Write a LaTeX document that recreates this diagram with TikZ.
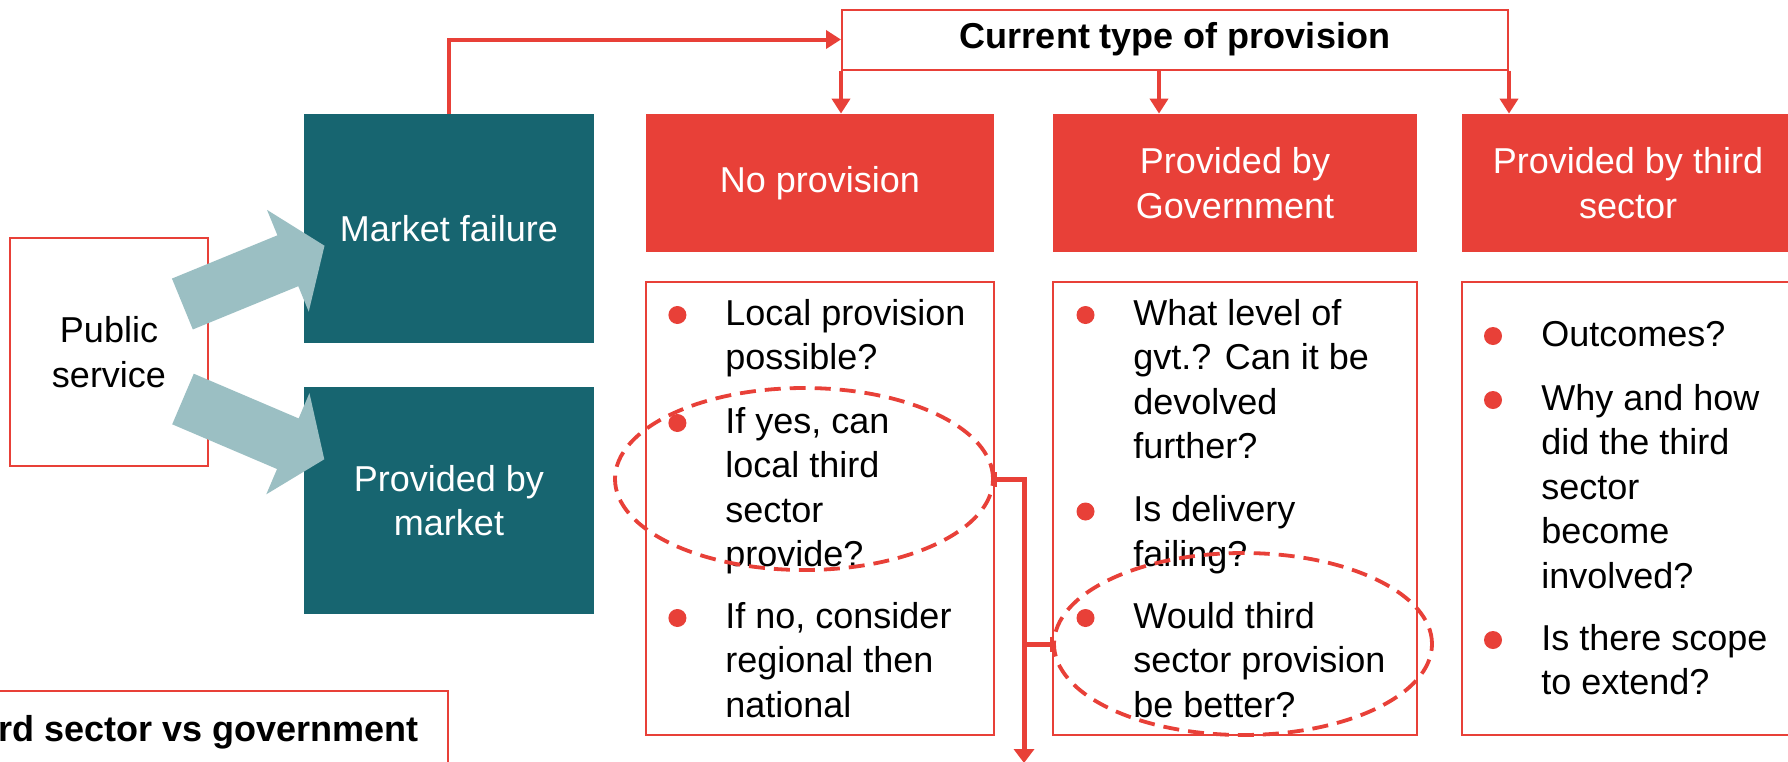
\documentclass[tikz,border=0pt]{standalone}
\usepackage{fontspec}
\setmainfont{Liberation Sans}
\usetikzlibrary{shapes.geometric}
\usetikzlibrary{arrows.meta}
\definecolor{redc}{HTML}{E84038}
\definecolor{tealc}{HTML}{176570}
\definecolor{palec}{HTML}{9BBFC3}
\tikzset{node distance=162.75pt,
every node/.style={
font=\fontsize{18}{22.25}\selectfont,
align=center},
redbox/.style={
fill=redc,
text=white,
minimum height=69pt,
inner sep=0pt},
tealbox/.style={
fill=tealc,
text=white,
minimum width=145pt,
inner sep=0pt},
framebox/.style={
draw=redc,
line width=1pt,
inner sep=0pt},
listbox/.style={
framebox,
minimum height=226.5pt},
item/.style={
anchor=base west,
align=left,
inner sep=0pt},
dot/.style={
circle,
fill=redc,
minimum size=9pt,
inner sep=0pt},
ring/.style={
ellipse,
draw=redc,
line width=1.9pt,
dash pattern=on 8pt off 4.5pt,
minimum width=189pt,
minimum height=91pt},
fat/.style={
fill=palec},
link/.style={
draw=redc,
line width=2pt,
-{Triangle[length=7.5pt,width=9pt]}},
flow/.style={
draw=redc,
line width=2.5pt,
{Bar[width=7.5pt,line width=1pt]}-{Triangle[length=7pt,width=10pt]}},
flowbar/.style={
draw=redc,
line width=2.5pt,
{Bar[width=7.5pt,line width=1pt]}-}}

\begin{document}
\begin{tikzpicture}[x=0.5pt, y=-0.5pt]
\path[use as bounding box, clip] (0,0) rectangle (1788,761);
\fill[white] (0,0) rectangle (1788,761);

% left side
\node[framebox, minimum width=98.8pt, minimum height=113.75pt] (pub) at (109,352) {Public\\service};
\node[tealbox, minimum height=114.5pt] (fail) at (449,228.5) {Market failure};
\node[tealbox, minimum height=113.5pt] (mkt) at (449,500.5) {Provided by\\market};
\fill[fat, shift={(182.4,304)}, rotate=22.3] (0,27.5) -- (114,27.5) -- (114,55) -- (153.6,0) -- (114,-55) -- (114,-27.5) -- (0,-27.5) -- cycle;
\fill[fat, shift={(183,399)}, rotate=-23.1] (0,27.5) -- (114,27.5) -- (114,55) -- (153.6,0) -- (114,-55) -- (114,-27.5) -- (0,-27.5) -- cycle;

% provision headers
\node[framebox, minimum width=333pt, minimum height=30pt] (cur) at (1175,39.5) {\bfseries Current type of provision};
\node[redbox, minimum width=174pt] (nop) at (820,183) {No provision};
\node[redbox, minimum width=182pt] (gov) at (1235,183) {Provided by\\Government};
\node[redbox, minimum width=166pt] (thd) at (1628,183) {Provided by third\\sector};
\node[listbox, minimum width=174pt, below of=nop] (nopl) {};
\node[listbox, minimum width=182pt, below of=gov] (govl) {};
\node[listbox, minimum width=166pt, below of=thd] (thdl) {};

% questions (placed at the baseline of their last line)
\node[item] (np1) at (725,369.5) {Local provision\\possible?};
\node[item] (np2) at (725,566.5) {If yes, can\\local third\\sector\\provide?};
\node[item] (np3) at (725,717) {If no, consider\\regional then\\national};
\node[dot] (npd1) at (677.4,315) {};
\node[dot] (npd2) at (677.4,423) {};
\node[dot] (npd3) at (677.4,618) {};
\node[item] (gv1) at (1133,458.5) {What level of\\gvt.? Can it be\\devolved\\further?};
\node[item] (gv2) at (1133,566) {Is delivery\\failing?};
\node[item] (gv3) at (1133,717) {Would third\\sector provision\\be better?};
\node[dot] (gvd1) at (1085.5,315) {};
\node[dot] (gvd2) at (1085.5,511.5) {};
\node[dot] (gvd3) at (1085.5,618) {};
\node[item] (td1) at (1541,346) {Outcomes?};
\node[item] (td2) at (1541,588) {Why and how\\did the third\\sector\\become\\involved?};
\node[item] (td3) at (1541,694.5) {Is there scope\\to extend?};
\node[dot] (tdd1) at (1493,336) {};
\node[dot] (tdd2) at (1493,400) {};
\node[dot] (tdd3) at (1493,640) {};

% highlights
\node[ring] (circA) at (804,479) {};
\node[ring] (circB) at (1243,644) {};
\coordinate (drop) at (1024,763);

% comparison box
\node[framebox, anchor=north east, minimum width=300pt, minimum height=60pt] (cmp) at (449,690) {};
\node[anchor=base east, inner sep=0pt] (cmptxt) at (419,741) {\bfseries rd sector vs government};

% connectors
\draw[link] (fail.north) |- (cur.west);
\draw[link] (cur.south west) -- (cur.south west |- nop.north);
\draw[link] ([xshift=-8pt]cur.south) -- ([xshift=-8pt]cur.south |- gov.north);
\draw[link] (cur.south east) -- (cur.south east |- thd.north);
\draw[flow] (circA.east) -| (drop);
\draw[flowbar] (circB.west) -- (circB.west -| drop);
\end{tikzpicture}
\end{document}
